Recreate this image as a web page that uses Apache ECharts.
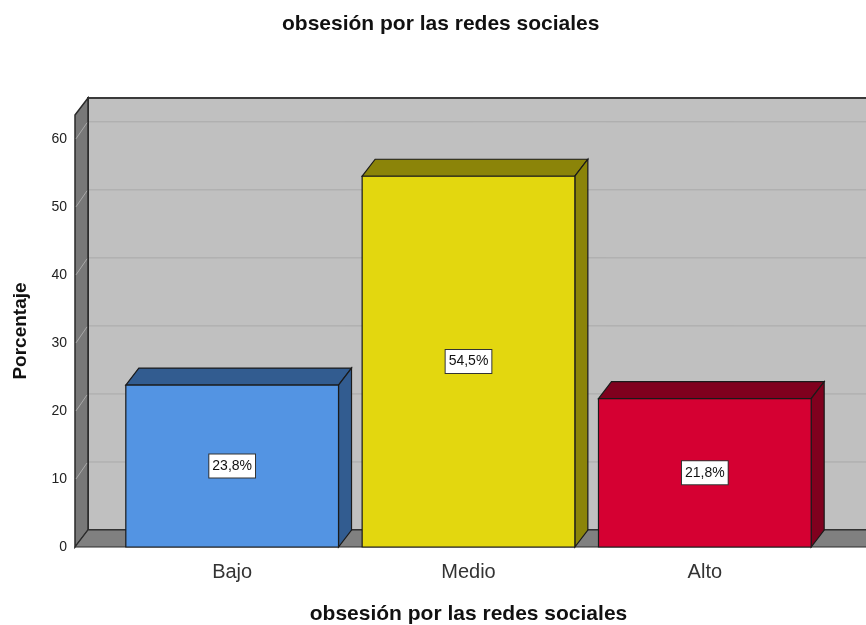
<!DOCTYPE html>
<html>
<head>
    <meta charset="utf-8" />
    <script src="https://cdn.jsdelivr.net/npm/echarts@6/dist/echarts.min.js"></script>
    <style>
        html, body { margin: 0; padding: 0; background: #fff; }
    </style>
</head>
<body>
    <div id="main" style="width: 866px; height: 625px;"></div>
    <script type="text/javascript">
        // datos
        var categorias = ['Bajo', 'Medio', 'Alto'];
        var porcentajes = [23.8, 54.5, 21.8];
        var etiquetas = ['23,8%', '54,5%', '21,8%'];
        var yTicks = [0, 10, 20, 30, 40, 50, 60];
        var yMax = 63.5;

        var colorFrente = ['#5394e3', '#e3d70f', '#d50032'];
        var colorOscuro = ['#325c90', '#8b8409', '#80001e'];

        // profundidad 3D
        var DX = 13, DY = 17;
        var FRENTE_IZQ = 39; // distancia del plano frontal al borde del grid

        var myChart = echarts.init(document.getElementById('main'));

        var option = {
            animation: false,
            backgroundColor: '#ffffff',
            title: {
                text: 'obsesión por las redes sociales',
                left: 277,
                top: 9,
                textStyle: {
                    fontFamily: 'Liberation Sans',
                    fontSize: 21,
                    fontWeight: 'bold',
                    color: '#111'
                }
            },
            grid: {
                left: 114,
                right: 43,
                top: 115,
                bottom: 78,
                outerBoundsMode: 'none'
            },
            xAxis: {
                type: 'category',
                data: categorias,
                name: 'obsesión por las redes sociales',
                nameLocation: 'middle',
                nameGap: 57,
                nameTextStyle: {
                    fontFamily: 'Liberation Sans',
                    fontSize: 21,
                    fontWeight: 'bold',
                    color: '#111'
                },
                axisLine: { show: false },
                axisTick: { show: false },
                axisLabel: {
                    margin: 15,
                    fontFamily: 'Liberation Sans',
                    fontSize: 20,
                    color: '#333'
                }
            },
            yAxis: {
                type: 'value',
                min: 0,
                max: yMax,
                interval: 10,
                name: 'Porcentaje',
                nameLocation: 'middle',
                nameGap: 84,
                nameRotate: 90,
                nameTextStyle: {
                    fontFamily: 'Liberation Sans',
                    fontSize: 19,
                    fontWeight: 'bold',
                    color: '#111'
                },
                axisLine: { show: false },
                axisTick: { show: false },
                splitLine: { show: false },
                axisLabel: {
                    margin: 47,
                    fontFamily: 'Liberation Sans',
                    fontSize: 14,
                    color: '#222',
                    formatter: function (v) {
                        return yTicks.indexOf(v) >= 0 ? String(v) : '';
                    }
                }
            },
            series: [
                {
                    // paredes: fondo, lateral y piso
                    type: 'custom',
                    clip: false,
                    z: 1,
                    silent: true,
                    data: [[0, 0]],
                    encode: { x: 0, y: 1 },
                    renderItem: function (params, api) {
                        var cs = params.coordSys;
                        var xf = cs.x - FRENTE_IZQ;
                        var xr = api.getWidth() + 2;
                        var y0 = api.coord([0, 0])[1];
                        var yt = api.coord([0, yMax])[1];
                        return {
                            type: 'group',
                            children: [
                                {
                                    type: 'rect',
                                    shape: { x: xf + DX, y: yt - DY, width: xr - xf - DX, height: y0 - yt },
                                    style: { fill: '#c0c0c0', stroke: '#3a3a3a', lineWidth: 2 }
                                },
                                {
                                    type: 'polygon',
                                    shape: { points: [[xf, yt], [xf + DX, yt - DY], [xf + DX, y0 - DY], [xf, y0]] },
                                    style: { fill: '#787878', stroke: '#2a2a2a', lineWidth: 1.5 }
                                },
                                {
                                    type: 'polygon',
                                    shape: { points: [[xf, y0], [xf + DX, y0 - DY], [xr, y0 - DY], [xr, y0]] },
                                    style: { fill: '#808080', stroke: '#2a2a2a', lineWidth: 1.2 }
                                }
                            ]
                        };
                    }
                },
                {
                    // líneas de cuadrícula
                    type: 'custom',
                    clip: false,
                    z: 2,
                    silent: true,
                    data: yTicks.slice(1).map(function (v) { return [0, v]; }),
                    encode: { x: 0, y: 1 },
                    renderItem: function (params, api) {
                        var cs = params.coordSys;
                        var xf = cs.x - FRENTE_IZQ;
                        var xr = api.getWidth() + 2;
                        var y = api.coord([0, api.value(1)])[1];
                        return {
                            type: 'group',
                            children: [
                                {
                                    type: 'line',
                                    shape: { x1: xf + DX + 1, y1: y - DY, x2: xr, y2: y - DY },
                                    style: { stroke: '#a9a9a9', lineWidth: 1 }
                                },
                                {
                                    type: 'line',
                                    shape: { x1: xf + 1, y1: y, x2: xf + DX - 1, y2: y - DY + 1 },
                                    style: { stroke: '#a8a8a8', lineWidth: 1 }
                                }
                            ]
                        };
                    }
                },
                {
                    // barras 3D
                    type: 'custom',
                    clip: false,
                    z: 3,
                    data: porcentajes.map(function (v, i) { return [i, v]; }),
                    encode: { x: 0, y: 1 },
                    renderItem: function (params, api) {
                        var i = api.value(0);
                        var base = api.coord([i, 0]);
                        var top = api.coord([i, api.value(1)]);
                        var w = api.size([1, 0])[0] * 0.9;
                        var x = base[0] - w / 2;
                        var yb = base[1];
                        var yt = top[1];
                        var edge = { stroke: '#1a1a1a', lineWidth: 1.2 };
                        return {
                            type: 'group',
                            children: [
                                {
                                    type: 'polygon',
                                    shape: { points: [[x, yt], [x + DX, yt - DY], [x + w + DX, yt - DY], [x + w, yt]] },
                                    style: Object.assign({ fill: colorOscuro[i] }, edge)
                                },
                                {
                                    type: 'polygon',
                                    shape: { points: [[x + w, yt], [x + w + DX, yt - DY], [x + w + DX, yb - DY], [x + w, yb]] },
                                    style: Object.assign({ fill: colorOscuro[i] }, edge)
                                },
                                {
                                    type: 'rect',
                                    shape: { x: x, y: yt, width: w, height: yb - yt },
                                    style: Object.assign({ fill: colorFrente[i] }, edge)
                                },
                                {
                                    type: 'text',
                                    x: base[0],
                                    y: (yt + yb) / 2,
                                    style: {
                                        text: etiquetas[i],
                                        align: 'center',
                                        verticalAlign: 'middle',
                                        fontFamily: 'Liberation Sans',
                                        fontSize: 14,
                                        fill: '#111',
                                        backgroundColor: '#ffffff',
                                        borderColor: '#333',
                                        borderWidth: 1,
                                        padding: [5, 3, 4, 3]
                                    }
                                }
                            ]
                        };
                    }
                }
            ]
        };

        myChart.setOption(option);
    </script>
</body>
</html>
